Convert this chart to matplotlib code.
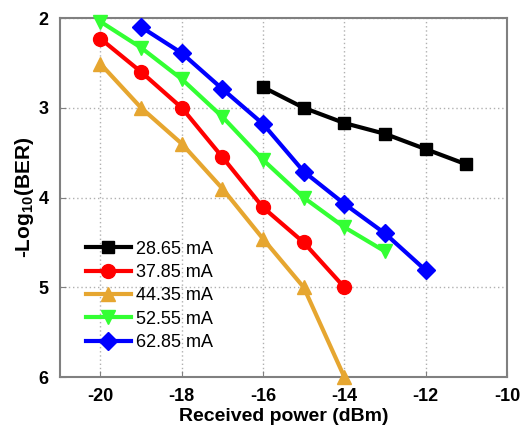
import numpy as np
import matplotlib
matplotlib.use('Agg')
import matplotlib.pyplot as plt
plt.rcParams['font.family'] = ['Liberation Sans', 'DejaVu Sans']
plt.rcParams['mathtext.fontset'] = 'custom'
plt.rcParams['mathtext.bf'] = 'Liberation Sans:bold'
plt.rcParams['mathtext.rm'] = 'Liberation Sans'
plt.rcParams['axes.unicode_minus'] = False

labels = ['28.65 mA', '37.85 mA', '44.35 mA', '52.55 mA', '62.85 mA']
colors = ['black', '#ff0000', '#e6a630', '#33ff33', '#0000ff']
markers = ['s', 'o', '^', 'v', 'D']

x_black = [-16, -15, -14, -13, -12, -11]
y_black = [2.77, 3.0, 3.17, 3.29, 3.46, 3.63]
x_red = [-20, -19, -18, -17, -16, -15, -14]
y_red = [2.23, 2.60, 3.0, 3.55, 4.11, 4.50, 5.0]
x_orange = [-20, -19, -18, -17, -16, -15, -14]
y_orange = [2.51, 3.0, 3.40, 3.90, 4.46, 5.0, 6.0]
x_green = [-20, -19, -18, -17, -16, -15, -14, -13]
y_green = [2.04, 2.33, 2.68, 3.10, 3.58, 4.0, 4.33, 4.60]
x_blue = [-19, -18, -17, -16, -15, -14, -13, -12]
y_blue = [2.10, 2.39, 2.79, 3.18, 3.71, 4.07, 4.40, 4.81]

xs = [x_black, x_red, x_orange, x_green, x_blue]
ys = [y_black, y_red, y_orange, y_green, y_blue]

fig = plt.figure(figsize=(5.2, 4.3), dpi=100)
ax = fig.add_axes([0.115, 0.123, 0.86, 0.835])

for x, y, c, m, lab in zip(xs, ys, colors, markers, labels):
    ms = 9 if m in ('s', 'D') else 10
    ax.plot(x, y, color=c, marker=m, markersize=ms, linewidth=3, label=lab,
            clip_on=False, zorder=3)

ax.set_xlim(-21, -10)
ax.set_ylim(6, 2)
ax.set_xticks([-20, -18, -16, -14, -12, -10])
ax.set_yticks([2, 3, 4, 5, 6])
ax.grid(True, color='#b0b0b0', linestyle=(0, (1, 2)), linewidth=1)
for s in ax.spines.values():
    s.set_color('#808080')
    s.set_linewidth(1.5)
ax.tick_params(direction='in', color='#808080', labelsize=13, length=4, pad=8)
for t in ax.get_xticklabels() + ax.get_yticklabels():
    t.set_fontweight('bold')

ax.set_xlabel('Received power (dBm)', fontsize=14, fontweight='bold', labelpad=2)
ax.set_ylabel(r'-Log$_\mathbf{10}$(BER)', fontsize=15, fontweight='bold', labelpad=2)

ax.legend(loc='upper left', bbox_to_anchor=(0.042, 0.40), frameon=False,
          fontsize=13, handlelength=2.5, handletextpad=0.3, labelspacing=0.35,
          borderaxespad=0)

plt.savefig('out.png', dpi=100)
